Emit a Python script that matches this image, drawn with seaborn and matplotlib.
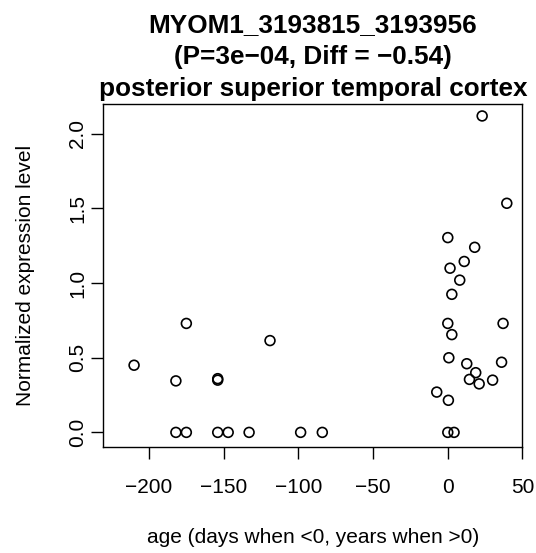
import pandas as pd
import matplotlib
matplotlib.use("Agg")
import matplotlib.pyplot as plt
import seaborn as sns

sns.set_style("white")
plt.rcParams["font.family"] = ["Liberation Sans", "DejaVu Sans"]
plt.rcParams["text.color"] = "black"
plt.rcParams["axes.labelcolor"] = "black"
plt.rcParams["xtick.color"] = "black"
plt.rcParams["ytick.color"] = "black"

# age (days when <0, years when >0) and expression values
age = [-210, -175, -182, -154, -154, -119,
       -182, -175, -154, -147, -133, -98.5, -84,
       23, 39.5, 0, 18, 11, 1.5, 8, 2.7, 0, 37, 2.7, 0.7,
       12.7, 36, 18.7, 14.5, 21, 30, -7.4, 0.4, 0, 4.2]
expr = [0.45, 0.73, 0.345, 0.35, 0.36, 0.615,
        0, 0, 0, 0, 0, 0, 0,
        2.12, 1.535, 1.305, 1.24, 1.145, 1.10, 1.02, 0.925, 0.73, 0.73, 0.655, 0.50,
        0.46, 0.47, 0.40, 0.355, 0.325, 0.35, 0.27, 0.215, 0, 0]

df = pd.DataFrame({"age": age, "expr": expr})

fig = plt.figure(figsize=(5.36, 5.53), dpi=100)
ax = fig.add_axes([0.1927, 0.1922, 0.7821, 0.6197])

sns.scatterplot(data=df, x="age", y="expr", ax=ax, marker="o", s=50,
                facecolor="none", edgecolor="black", linewidth=1.2)

ax.set_xlim(-230.6, 50)
ax.set_ylim(-0.096, 2.2)
ax.set_xticks([-200, -150, -100, -50, 0, 50])
ax.set_xticklabels(["\u2212200", "\u2212150", "\u2212100", "\u221250", "0", "50"])
ax.set_yticks([0, 0.5, 1.0, 1.5, 2.0])
ax.set_yticklabels(["0.0", "0.5", "1.0", "1.5", "2.0"], rotation=90, va="center")

ax.tick_params(axis="both", direction="out", length=8.6, width=1, labelsize=15,
               bottom=True, left=True, color="black", labelcolor="black")
ax.tick_params(axis="x", pad=14)
ax.tick_params(axis="y", pad=3)
for sp in ax.spines.values():
    sp.set_color("black")
    sp.set_linewidth(1)

ax.set_xlabel("age (days when <0, years when >0)", fontsize=15, labelpad=22)
ax.set_ylabel("Normalized expression level", fontsize=15, labelpad=24)
ax.set_title("MYOM1_3193815_3193956\n(P=3e\u221204, Diff = \u22120.54)\nposterior superior temporal cortex",
             fontsize=18.8, fontweight="bold", linespacing=1.42, pad=6)

fig.savefig("out.png", dpi=100)
